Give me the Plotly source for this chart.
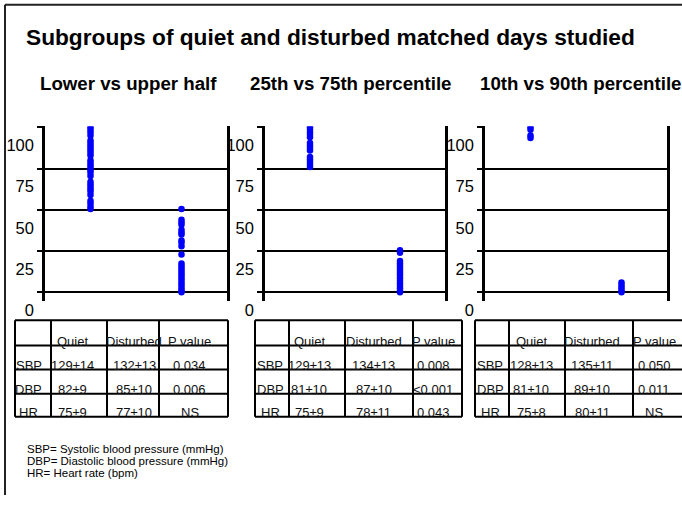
import plotly.graph_objects as go

W, H = 682, 513

# ---- data -------------------------------------------------------------
title = "Subgroups of quiet and disturbed matched days studied"
panel_titles = ["Lower vs upper half", "25th vs 75th percentile", "10th vs 90th percentile"]
groups = ["upper", "lower"]
y_ticks = [0, 25, 50, 75, 100]

# percentile ranks of the selected days
p1_upper = [100, 98.5, 97, 95, 92, 90.5, 89, 87.5, 86, 84.5, 83, 80, 78.5, 77, 75.5,
            74, 72.5, 70.5, 67, 65.5, 64, 62.5, 61, 59, 55.5, 54, 52, 50.5]
p1_lower = [50.5, 44, 42.5, 41, 38, 36.5, 35, 31.5, 30, 28, 23, 17.5, 16, 14.5, 13,
            11.5, 10, 8.5, 7, 5.5, 4, 2.5, 1, 0]
p2_upper = [100, 98.5, 97, 95.5, 94, 90.5, 89, 87.5, 86, 82, 80.5, 79, 77.5, 76]
p2_lower = [25.5, 24, 19, 17.5, 16, 14.5, 13, 11.5, 10, 8.5, 7, 5.5, 4, 2.5, 1, 0]
p3_upper = [100, 98.5, 95, 93.5]
p3_lower = [6, 4.5, 3, 1.5, 0]

row_labels = ["SBP", "DBP", "HR"]
header = ["Quiet", "Disturbed", "P value"]
t1_quiet = ["129±14", "82±9", "75±9"]
t1_disturbed = ["132±13", "85±10", "77±10"]
t1_p = ["0.034", "0.006", "NS"]
t2_quiet = ["129±13", "81±10", "75±9"]
t2_disturbed = ["134±13", "87±10", "78±11"]
t2_p = ["0.008", "<0.001", "0.043"]
t3_quiet = ["128±13", "81±10", "75±8"]
t3_disturbed = ["135±11", "89±10", "80±11"]
t3_p = ["0.050", "0.011", "NS"]

footnotes = ["SBP= Systolic blood pressure (mmHg)",
             "DBP= Diastolic blood pressure (mmHg)",
             "HR= Heart rate (bpm)"]

# ---- layout helpers (pixel -> paper) -----------------------------------
def px(x):
    return x / W


def py(y):
    return 1 - y / H


FONT = "Liberation Sans, Arial, sans-serif"
BLUE = "#0000ff"

panel_x = [(45, 227), (265, 445), (485, 667)]
plot_top, plot_bot = 130.97, 312.06
title_x = [38, 248, 478]

series = [(p1_upper, p1_lower), (p2_upper, p2_lower), (p3_upper, p3_lower)]
tables = [(t1_quiet, t1_disturbed, t1_p), (t2_quiet, t2_disturbed, t2_p), (t3_quiet, t3_disturbed, t3_p)]
table_cols = [[15, 51, 107, 159, 228], [255, 289, 345, 413, 462], [475, 509, 565, 633, 690]]
text_cx = [[29, 72, 134, 190], [270, 309, 374, 433], [490, 531, 592, 654]]
table_rows = [332, 358, 383, 408, 432]

fig = go.Figure()
shapes = []
annotations = []

for i, (up, lo) in enumerate(series):
    n = "" if i == 0 else str(i + 1)
    fig.add_trace(go.Scatter(x=[groups[0]] * len(up), y=up, mode="markers",
                             marker=dict(color=BLUE, size=6.5), xaxis="x" + n, yaxis="y" + n,
                             showlegend=False, hoverinfo="y"))
    fig.add_trace(go.Scatter(x=[groups[1]] * len(lo), y=lo, mode="markers",
                             marker=dict(color=BLUE, size=6.5), xaxis="x" + n, yaxis="y" + n,
                             showlegend=False, hoverinfo="y"))
    x0, x1 = panel_x[i]
    fig.update_layout(**{
        "xaxis" + n: dict(domain=[px(x0), px(x1)], anchor="y" + n, type="category",
                          categoryarray=groups, range=[-0.5, 1.5], showticklabels=False,
                          showgrid=False, zeroline=False, showline=False, fixedrange=True),
        "yaxis" + n: dict(domain=[py(plot_bot), py(plot_top)], anchor="x" + n,
                          range=[-5.3, 100.6], tickvals=y_ticks, showgrid=True,
                          gridcolor="black", gridwidth=2, zeroline=True, zerolinecolor="black",
                          zerolinewidth=2, showline=True, linecolor="black", linewidth=2.5,
                          mirror=True, ticks="outside", ticklen=5, tickwidth=2, tickcolor="black",
                          tickfont=dict(family=FONT, size=16.5, color="black"),
                          ticklabelshift=18, ticklabelstandoff=0, fixedrange=True),
    })
    annotations.append(dict(text="<b>%s</b>" % panel_titles[i], x=px(title_x[i]), y=py(87),
                            xref="paper", yref="paper", xanchor="left", yanchor="middle",
                            showarrow=False, font=dict(family=FONT, size=18.7, color="black")))

    # table grid
    cols = table_cols[i]
    for yy in table_rows:
        shapes.append(dict(type="line", xref="paper", yref="paper", x0=px(cols[0]), x1=px(cols[-1]),
                           y0=py(yy), y1=py(yy), line=dict(color="black", width=2)))
    for xx in cols:
        shapes.append(dict(type="line", xref="paper", yref="paper", x0=px(xx), x1=px(xx),
                           y0=py(table_rows[0]), y1=py(table_rows[-1]), line=dict(color="black", width=2)))

    # table text (sits on the row lines, as in the slide)
    cx = text_cx[i]
    cells = [[""] + header] + [[row_labels[r]] + [col[r] for col in tables[i]] for r in range(3)]
    for r, row in enumerate(cells):
        for c, txt in enumerate(row):
            if not txt:
                continue
            annotations.append(dict(text=txt, x=px(cx[c]), y=py(table_rows[r + 1] - 4),
                                    xref="paper", yref="paper", xanchor="center", yanchor="middle",
                                    showarrow=False, font=dict(family=FONT, size=13, color="#111")))

annotations.append(dict(text="<b>%s</b>" % title, x=px(24), y=py(38), xref="paper", yref="paper",
                        xanchor="left", yanchor="middle", showarrow=False,
                        font=dict(family=FONT, size=22.7, color="black")))
for k, line in enumerate(footnotes):
    annotations.append(dict(text=line, x=px(25), y=py(465 + 12.5 * k), xref="paper", yref="paper",
                            xanchor="left", yanchor="middle", showarrow=False,
                            font=dict(family=FONT, size=11.5, color="black")))

# slide frame
shapes.append(dict(type="line", xref="paper", yref="paper", x0=px(5), x1=px(5), y0=py(5), y1=0,
                   line=dict(color="#222", width=2)))
shapes.append(dict(type="line", xref="paper", yref="paper", x0=px(5), x1=1, y0=py(5), y1=py(5),
                   line=dict(color="#222", width=2)))

fig.update_layout(width=W, height=H, autosize=False, margin=dict(l=0, r=0, t=0, b=0),
                  paper_bgcolor="white", plot_bgcolor="white",
                  shapes=shapes, annotations=annotations)

# pin the figure to the window's top-left corner so the page is exactly the window
page_js = ("document.body.style.margin='0px';"
           "document.documentElement.style.overflow='hidden';"
           "var gd=document.getElementById('{plot_id}');"
           "gd.style.position='fixed';gd.style.left='0px';gd.style.top='0px';")
fig.write_html("out.html", config={"displayModeBar": False, "responsive": False},
               post_script=page_js)
